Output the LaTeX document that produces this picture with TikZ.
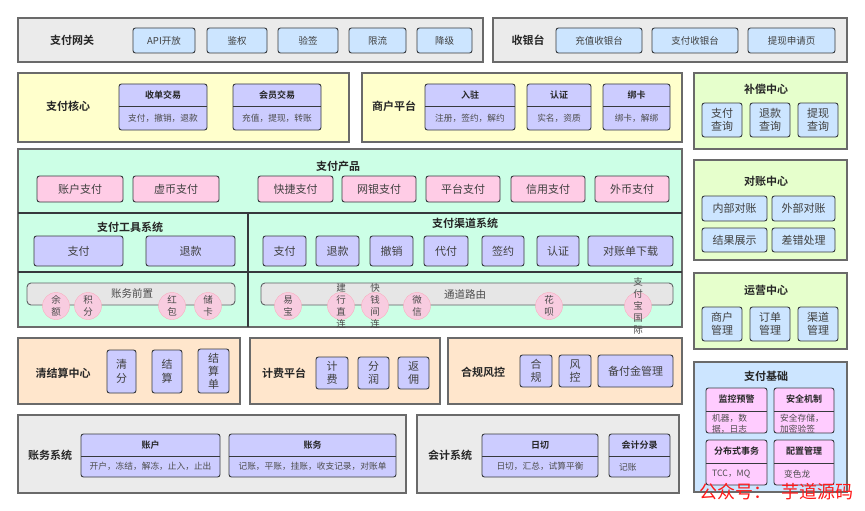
\documentclass[tikz,border=0pt]{standalone}
\usepackage{fontspec}
\setmainfont{Noto Sans CJK SC}[BoldFont={Noto Sans CJK SC Bold}]
\usetikzlibrary{fit,calc}

\definecolor{strk}{HTML}{36393D}
\definecolor{edge}{HTML}{6A6A6A}
\definecolor{gryf}{HTML}{EBEBEB}
\definecolor{bluf}{HTML}{CCE5FF}
\definecolor{yelf}{HTML}{FFFFCC}
\definecolor{purf}{HTML}{CCCCFF}
\definecolor{pnkf}{HTML}{FFCCE6}
\definecolor{grnf}{HTML}{CCFFE6}
\definecolor{limf}{HTML}{E6FFCC}
\definecolor{orgf}{HTML}{FFE6CC}
\definecolor{magf}{HTML}{FFCCFF}
\definecolor{barf}{HTML}{E6E6E6}
\definecolor{dotf}{HTML}{F8CCE0}

\tikzset{
  panel/.style={draw=edge, line width=1.2pt, inner sep=0pt},
  item/.style={draw=strk, line width=0.9pt, rounded corners=2.5pt, inner sep=0pt},
  itext/.style={text=black!75, align=center, inner sep=0pt, font=\fontsize{11}{13.5}\selectfont},
  gfont/.style={font=\fontsize{9.5}{12}\selectfont},
  title/.style={font=\bfseries\fontsize{11}{13}\selectfont, text=black!85},
  head/.style={font=\bfseries\fontsize{9}{11}\selectfont, text=black!85, inner sep=0pt},
  small/.style={font=\fontsize{8.7}{10.5}\selectfont, text=black!70, align=center, inner sep=0pt},
  divider/.style={draw=strk, line width=1.4pt},
  bar/.style={draw=strk!80, line width=0.9pt, fill=barf, rounded corners=4pt, inner sep=0pt},
  dot/.style={circle, fill=dotf, draw=dotf!85!red, line width=0.4pt, minimum size=27pt, inner sep=0pt},
  stack/.style={font=\fontsize{9.5}{12}\selectfont, align=center, text=black!70, inner sep=0pt},
}

% plain rounded box with centred text
\newcommand\itm[6][]{%
  \node[item, fill=#3, fit={(#4) (#5)}] (#2) {};
  \node[itext, #1] (#2-t) at (#2.center) {#6};
}

% box with a header strip and a body line
\newcommand\duobox[9]{%
  \node[item, fill=#9, fit={(#2,#3) (#4,#5)}] (#1) {};
  \coordinate (#1-l) at (#2,#6);
  \coordinate (#1-r) at (#4,#6);
  \draw[strk, line width=0.9pt] (#1-l) -- (#1-r);
  \node[head] (#1-h) at ($(#2,#3)!0.5!(#4,#6)$) {#7};
  \node[small] (#1-b) at ($(#2,#6)!0.5!(#4,#5)$) {#8};
}

\begin{document}
\begin{tikzpicture}[x=1pt, y=-1pt]
\useasboundingbox (0,0) rectangle (865,511);
\fill[white] (0,0) rectangle (865,511);

% ---------- gateway and cashier ----------
\node[panel, fill=gryf, fit={(18,18) (483,62)}] (gw) {};
\node[title] (gw-t) at (72,40) {支付网关};
\itm[gfont]{gw1}{bluf}{133,28}{195,53}{API开放}
\itm[gfont]{gw2}{bluf}{207,28}{267,53}{鉴权}
\itm[gfont]{gw3}{bluf}{278,28}{338,53}{验签}
\itm[gfont]{gw4}{bluf}{349,28}{406,53}{限流}
\itm[gfont]{gw5}{bluf}{417,28}{472,53}{降级}

\node[panel, fill=gryf, fit={(493,18) (847,62)}] (cs) {};
\node[title] (cs-t) at (528,40) {收银台};
\itm[gfont]{cs1}{bluf}{556,28}{642,53}{充值收银台}
\itm[gfont]{cs2}{bluf}{652,28}{738,53}{支付收银台}
\itm[gfont]{cs3}{bluf}{748,28}{835,53}{提现申请页}

% ---------- payment core and merchant platform ----------
\node[panel, fill=yelf, fit={(18,73) (349,142)}] (core) {};
\node[title] (core-t) at (68,106) {支付核心};
\duobox{sk1}{119}{84}{207}{130}{106}{收单交易}{支付，撤销，退款}{purf}
\duobox{sk2}{233}{84}{321}{130}{106}{会员交易}{充值，提现，转账}{purf}

\node[panel, fill=yelf, fit={(362,73) (682,142)}] (mp) {};
\node[title] (mp-t) at (394,106) {商户平台};
\duobox{mp1}{425}{84}{515}{130}{106}{入驻}{注册，签约，解约}{purf}
\duobox{mp2}{527}{84}{591}{130}{106}{认证}{实名，资质}{purf}
\duobox{mp3}{603}{84}{670}{130}{106}{绑卡}{绑卡，解绑}{purf}

% ---------- right column ----------
\node[panel, fill=limf, fit={(694,73) (847,149)}] (bc) {};
\node[title] (bc-t) at (766,89) {补偿中心};
\itm{bc1}{bluf}{702,103}{742,137}{支付\\查询}
\itm{bc2}{bluf}{750,103}{790,137}{退款\\查询}
\itm{bc3}{bluf}{798,103}{838,137}{提现\\查询}

\node[panel, fill=limf, fit={(694,160) (847,260)}] (dz) {};
\node[title] (dz-t) at (766,181) {对账中心};
\itm{dz1}{bluf}{702,196}{767,221}{内部对账}
\itm{dz2}{bluf}{772,196}{835,221}{外部对账}
\itm{dz3}{bluf}{702,228}{767,252}{结果展示}
\itm{dz4}{bluf}{772,228}{835,252}{差错处理}

\node[panel, fill=limf, fit={(694,273) (847,349)}] (yy) {};
\node[title] (yy-t) at (766,290) {运营中心};
\itm{yy1}{bluf}{702,307}{742,341}{商户\\管理}
\itm{yy2}{bluf}{750,307}{790,341}{订单\\管理}
\itm{yy3}{bluf}{798,307}{838,341}{渠道\\管理}

\node[panel, fill=bluf, fit={(694,362) (847,492)}] (jc) {};
\node[title] (jc-t) at (766,376) {支付基础};
\duobox{jc1}{706}{388}{767}{433}{411}{监控预警}{}{magf}
\duobox{jc2}{774}{388}{834}{433}{411}{安全机制}{}{magf}
\duobox{jc3}{706}{440}{767}{485}{463}{分布式事务}{}{magf}
\duobox{jc4}{774}{440}{834}{485}{463}{配置管理}{}{magf}
\node[small, align=left, anchor=north west] (jc1-t) at (712,414) {机器，数\\据，日志};
\node[small, align=left, anchor=north west] (jc2-t) at (780,414) {安全存储，\\加密验签};
\node[small, anchor=west] (jc3-t) at (712,474) {TCC，MQ};
\node[small, anchor=west] (jc4-t) at (784,474) {变色龙};

% ---------- payment products ----------
\node[panel, fill=grnf, fit={(18,149) (682,327)}] (pp) {};
\node[title] (pp-t) at (338,166) {支付产品};
\itm{pp1}{pnkf}{37,176}{123,202}{账户支付}
\itm{pp2}{pnkf}{133,176}{219,202}{虚币支付}
\itm{pp3}{pnkf}{258,176}{333,202}{快捷支付}
\itm{pp4}{pnkf}{342,176}{416,202}{网银支付}
\itm{pp5}{pnkf}{426,176}{500,202}{平台支付}
\itm{pp6}{pnkf}{511,176}{585,202}{信用支付}
\itm{pp7}{pnkf}{595,176}{669,202}{外币支付}

\draw[divider] (18,213) -- (682,213);
\draw[divider] (18,272) -- (682,272);
\draw[divider] (248,213) -- (248,327);

\node[title] (tool-t) at (130,227) {支付工具系统};
\itm{tl1}{purf}{34,236}{123,266}{支付}
\itm{tl2}{purf}{146,236}{235,266}{退款}

\node[title] (ch-t) at (465,223) {支付渠道系统};
\itm{ch1}{purf}{263,236}{306,266}{支付}
\itm{ch2}{purf}{316,236}{359,266}{退款}
\itm{ch3}{purf}{370,236}{413,266}{撤销}
\itm{ch4}{purf}{424,236}{468,266}{代付}
\itm{ch5}{purf}{482,236}{524,266}{签约}
\itm{ch6}{purf}{537,236}{579,266}{认证}
\itm{ch7}{purf}{588,236}{673,266}{对账单下载}

% account front bar
\node[bar, fit={(27,283) (235,305)}] (af) {};
\node[stack, font=\fontsize{10.5}{12}\selectfont] (af-t) at (132,294) {账务前置};
\foreach \nm/\xx/\txt in {ye/56/余\\额, jf/88/积\\分, hb/172/红\\包, ck/208/储\\卡}{
  \node[dot] (\nm) at (\xx,306) {};
  \node[stack] (\nm-t) at (\nm) {\txt};
}

% channel routing bar
\node[bar, fit={(261,283) (673,305)}] (rt) {};
\node[stack, font=\fontsize{10.5}{12}\selectfont] (rt-t) at (465,294) {通道路由};
\foreach \nm/\xx/\txt in {yb/288/易\\宝, jh/341/建\\行\\直\\连, kq/375/快\\钱\\间\\连,
  wx/417/微\\信, hbei/549/花\\呗, zfb/638/支\\付\\宝\\国\\际}{
  \node[dot] (\nm) at (\xx,306) {};
  \node[stack] (\nm-t) at (\nm) {\txt};
}

% ---------- clearing, billing, compliance ----------
\node[panel, fill=orgf, fit={(18,338) (240,404)}] (qs) {};
\node[title] (qs-t) at (63,373) {清结算中心};
\itm{qs1}{purf}{107,350}{136,393}{清\\分}
\itm{qs2}{purf}{152,350}{182,393}{结\\算}
\itm[font=\fontsize{11}{13}\selectfont]{qs3}{purf}{198,349}{229,393}{结\\算\\单}

\node[panel, fill=orgf, fit={(250,338) (440,404)}] (jf) {};
\node[title] (jf-t) at (284,373) {计费平台};
\itm{jf1}{purf}{316,357}{348,389}{计\\费}
\itm{jf2}{purf}{358,357}{389,389}{分\\润}
\itm{jf3}{purf}{398,357}{429,389}{返\\佣}

\node[panel, fill=orgf, fit={(448,338) (682,404)}] (hg) {};
\node[title] (hg-t) at (483,372) {合规风控};
\itm{hg1}{purf}{520,355}{552,387}{合\\规}
\itm{hg2}{purf}{559,355}{591,387}{风\\控}
\itm{hg3}{purf}{598,355}{673,387}{备付金管理}

% ---------- ledger and accounting ----------
\node[panel, fill=gryf, fit={(18,415) (406,493)}] (zw) {};
\node[title] (zw-t) at (50,455) {账务系统};
\duobox{zw1}{81}{434}{220}{477}{456}{账户}{开户，冻结，解冻，止入，止出}{purf}
\duobox{zw2}{229}{434}{396}{477}{456}{账务}{记账，平账，挂账，收支记录，对账单}{purf}

\node[panel, fill=gryf, fit={(417,415) (679,493)}] (kj) {};
\node[title] (kj-t) at (450,455) {会计系统};
\duobox{kj1}{482}{434}{598}{477}{456}{日切}{日切，汇总，试算平衡}{purf}
\duobox{kj2}{609}{434}{670}{477}{456}{会计分录}{}{purf}
\node[small, anchor=west] (kj2-t) at (619,467) {记账};

% ---------- watermark ----------
\node[text=red!90, font=\fontsize{18}{20}\selectfont, anchor=east, inner sep=0pt] (wm) at (854,492) {公众号：\hspace{10pt}芋道源码};
\end{tikzpicture}
\end{document}
